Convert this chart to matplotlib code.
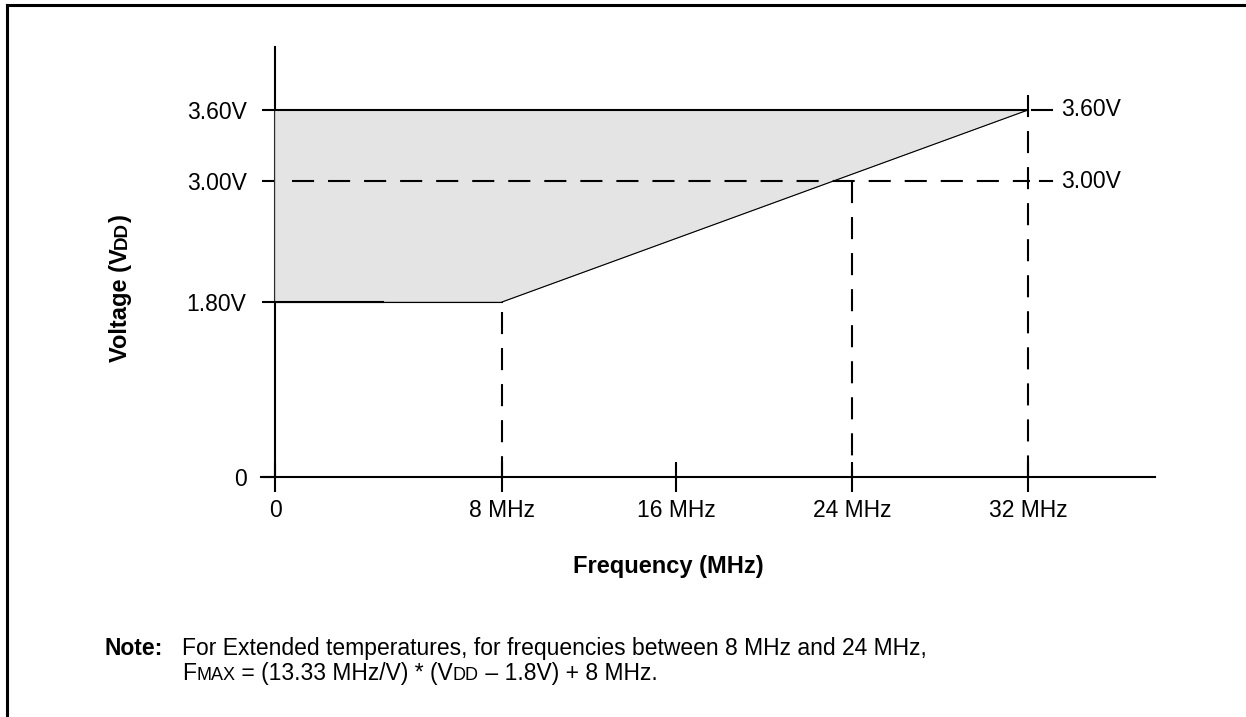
import numpy as np
import matplotlib
matplotlib.use('Agg')
import matplotlib.pyplot as plt
from matplotlib.lines import Line2D
from matplotlib.transforms import IdentityTransform

plt.rcParams['font.family'] = ['Liberation Sans', 'DejaVu Sans']

# ---- data ----
freq_ticks = [0, 8, 16, 24, 32]
freq_labels = ['0', '8 MHz', '16 MHz', '24 MHz', '32 MHz']
volt_ticks = [0, 1.8, 3.0, 3.6]
volt_labels = ['0', '1.80V', '3.00V', '3.60V']

# operating region (frequency MHz, VDD V)
region_freq = [0, 8, 32, 0]
region_volt = [1.8, 1.8, 3.6, 3.6]
v_min, v_mid, v_max = 1.8, 3.0, 3.6
f_knee, f_mid, f_top = 8, 24, 32

# ---- schematic (not to scale) axis layout: value -> pixel ----
W, H = 1246, 717
x_anchor = [-8, 0, 8, 16, 24, 32, 48]
x_pix = [48, 275, 502, 676, 852, 1028, 1380]
y_anchor = [-2, 0, 1.8, 3.0, 3.6, 6]
y_pix = [H - 671, H - 477, H - 302, H - 181, H - 110, H + 173]


def fwd_x(v):
    return np.interp(v, x_anchor, x_pix)


def inv_x(p):
    return np.interp(p, x_pix, x_anchor)


def fwd_y(v):
    return np.interp(v, y_anchor, y_pix)


def inv_y(p):
    return np.interp(p, y_pix, y_anchor)


fig = plt.figure(figsize=(W / 100, H / 100), dpi=100)
ax = fig.add_axes([261 / W, (H - 477) / H, (1155 - 261) / W, (477 - 47) / H])
ax.set_xscale('function', functions=(fwd_x, inv_x))
ax.set_yscale('function', functions=(fwd_y, inv_y))
ax.set_xlim(inv_x(261), inv_x(1155))
ax.set_ylim(0, inv_y(H - 47))

for s in ['top', 'right']:
    ax.spines[s].set_visible(False)
ax.spines['left'].set_position(('data', 0))
ax.spines['left'].set_linewidth(1.5)
ax.spines['bottom'].set_linewidth(1.5)

ax.set_xticks(freq_ticks, freq_labels)
ax.set_yticks(volt_ticks, volt_labels)
ax.tick_params(axis='x', direction='inout', length=21, width=1.5, pad=5, labelsize=16.5)
ax.tick_params(axis='y', direction='out', length=9.5, width=1.5, pad=11, labelsize=16.5)
ax.minorticks_off()

# shaded operating area (sits over the axis line, as in the datasheet)
ax.fill(region_freq, region_volt, facecolor='#e4e4e4', edgecolor='#808080',
        lw=0.5, zorder=2.6)
ax.plot([f_knee, f_top], [v_min, v_max], color='k', lw=0.8, zorder=3)
ax.plot([0, f_top], [v_max, v_max], color='k', lw=1.5, zorder=3)
ax.plot([0, f_knee], [v_min, v_min], color='k', lw=0.8, zorder=3)
ax.plot([0, 3.8], [v_min, v_min], color='k', lw=1.5, zorder=3)

dash = (10.6, 6.7)
x_end = 33.1
ax.plot([0.6, 32.1], [v_mid, v_mid], color='k', lw=1.5, dashes=dash, zorder=3)
ax.plot([32.55, x_end], [v_mid, v_mid], color='k', lw=1.5, zorder=3)
ax.plot([f_knee, f_knee], [v_min - 0.1, 0], color='k', lw=1.5, dashes=dash, zorder=3)
ax.plot([f_mid, f_mid], [v_mid, 0], color='k', lw=1.5, dashes=dash, zorder=3)
ax.plot([f_top, f_top], [3.73, 0], color='k', lw=1.5, dashes=dash, zorder=3)
ax.plot([32.2, x_end], [v_max, v_max], color='k', lw=1.5, zorder=3)

for v, lab in [(v_max, '3.60V'), (v_mid, '3.00V')]:
    ax.annotate(lab, (x_end, v), xytext=(6.5, 0), textcoords='offset points',
                va='center', ha='left', fontsize=16.5)

# ---- text pieces with small caps (drawn in pixel coordinates) ----
renderer = fig.canvas.get_renderer()
ident = IdentityTransform()


def text_run(x, y, pieces, rotation=0, weight='normal'):
    arts = []
    for s, size in pieces:
        t = fig.text(x, y, s, transform=ident, fontsize=size, weight=weight,
                     rotation=rotation, rotation_mode='anchor',
                     ha='left', va='baseline')
        bb = t.get_window_extent(renderer)
        if rotation:
            y = bb.y1
        else:
            x = bb.x1
        arts.append(t)
    return arts


# y label, centred vertically around pixel row 288
ylab = text_run(127, 0, [('Voltage (V', 17), ('DD', 13.5), (')', 17)],
                rotation=90, weight='bold')
total = ylab[-1].get_window_extent(renderer).y1 - ylab[0].get_window_extent(renderer).y0
shift = (H - 288) - total / 2
for t in ylab:
    px, py = t.get_position()
    t.set_position((px, py + shift))

fig.text(668, H - 573, 'Frequency (MHz)', transform=ident, fontsize=17,
         weight='bold', ha='center', va='baseline')

# note
fig.text(105, H - 655, 'Note:', transform=ident, fontsize=16.5, weight='bold',
         ha='left', va='baseline')
fig.text(182, H - 655, 'For Extended temperatures, for frequencies between 8 MHz and 24 MHz,',
         transform=ident, fontsize=16.5, ha='left', va='baseline')
text_run(182, H - 680, [('F', 16.5), ('MAX', 13), (' = (13.33 MHz/V) * (V', 16.5),
                        ('DD', 13), (' \u2013 1.8V) + 8 MHz.', 16.5)])

# page frame
fig.add_artist(Line2D([7 / W, 1], [1 - 5 / H, 1 - 5 / H], color='k', lw=2.2,
                      transform=fig.transFigure))
fig.add_artist(Line2D([7 / W, 7 / W], [0, 1 - 5 / H], color='k', lw=2.2,
                      transform=fig.transFigure))

fig.savefig('out.png', dpi=100)
